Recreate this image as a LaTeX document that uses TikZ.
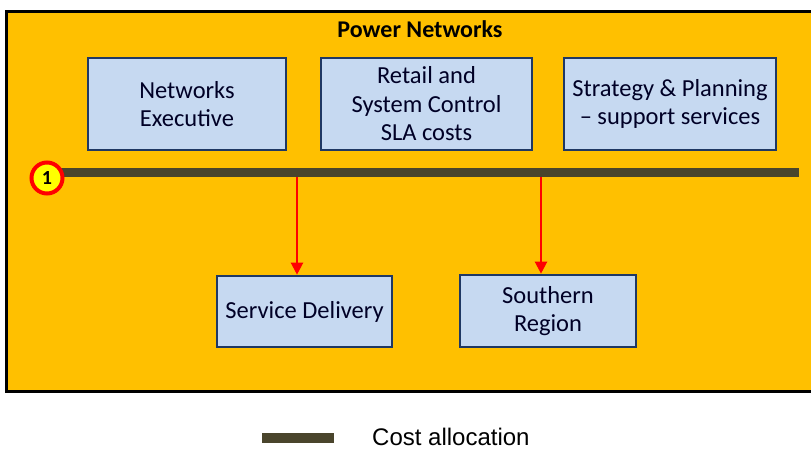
\documentclass[tikz,border=0pt]{standalone}
\usepackage{fontspec}
\setmainfont{Carlito}
\newfontfamily\legendfont{Liberation Sans}
\usetikzlibrary{arrows.meta}
\definecolor{panelfill}{HTML}{FFC000}
\definecolor{boxfill}{HTML}{C6D9F1}
\definecolor{boxedge}{HTML}{1F3864}
\definecolor{barcol}{HTML}{4A452C}
\definecolor{markfill}{HTML}{FFFF00}
\begin{document}
\begin{tikzpicture}[x=1pt,y=-1pt,
  unitbox/.style={draw=boxedge, line width=2.6pt, fill=boxfill, align=center,
    font=\fontsize{24.5}{28.5}\selectfont, text=black!85!blue, inner sep=0pt},
  alloc/.style={draw=red, line width=2.2pt, -{Triangle[width=12pt,length=12pt]}},
  costbar/.style={draw=barcol, line width=9pt}]
\useasboundingbox (0,0) rectangle (811,449);
% outer panel
\draw[line width=3pt, fill=panelfill] (6,12) rectangle (820,391);
\node[font=\fontsize{24}{26}\selectfont\bfseries] (title) at (420,29) {Power Networks};
% upper boxes
\node[unitbox, minimum width=198pt, minimum height=92pt] (exec) at (187,104) {Networks\\Executive};
\node[unitbox, minimum width=211pt, minimum height=92pt] (retail) at (426.5,104) {Retail and\\System Control\\SLA costs};
\node[unitbox, minimum width=212pt, minimum height=92pt] (strat) at (670,104) {Strategy \& Planning\\– support services};
% lower boxes
\node[unitbox, minimum width=175pt, minimum height=71pt] (service) at (304.5,311.5) {Service Delivery};
\node[unitbox, minimum width=176pt, minimum height=72pt] (south) at (548,311) {Southern\\Region};
% allocation bar
\coordinate (barL) at (60,173);
\coordinate (barR) at (799,173);
\draw[costbar] (barL) -- (barR);
\node[circle, draw=red, line width=4pt, fill=markfill, minimum size=31pt, inner sep=0pt,
  font=\fontsize{20}{20}\selectfont\bfseries] (mark) at (47,178) {1};
% allocation arrows
\coordinate (tapA) at (297,177);
\coordinate (tapB) at (541,177);
\draw[alloc] (tapA) -- (tapA |- service.north);
\draw[alloc] (tapB) -- (tapB |- south.north);
% legend
\coordinate (legL) at (262,438);
\coordinate (legR) at (334,438);
\draw[costbar, line width=10pt] (legL) -- (legR);
\node[anchor=west, font=\legendfont\fontsize{24}{26}\selectfont, inner sep=0pt] (legtext) at (372,437) {Cost allocation};
\end{tikzpicture}
\end{document}
